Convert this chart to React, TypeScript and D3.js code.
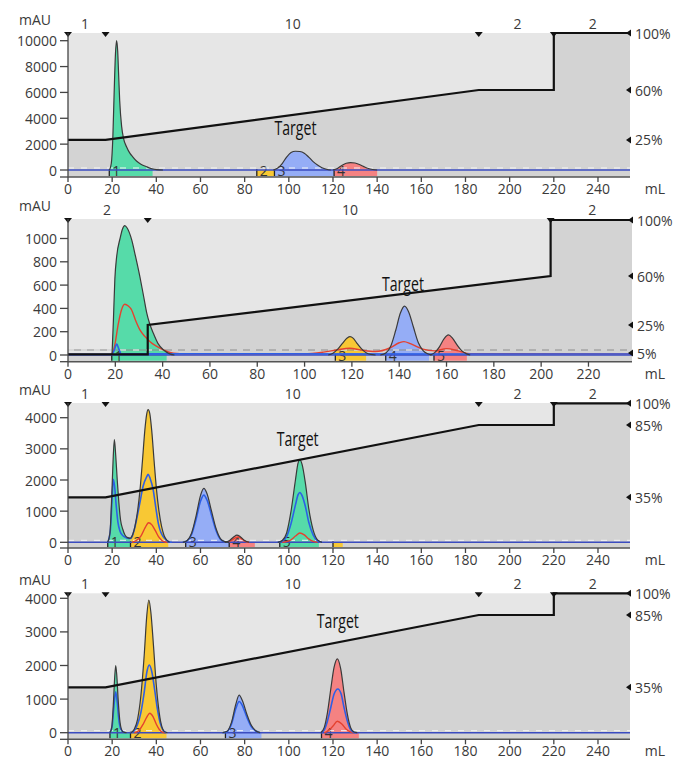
import React from 'react';
import * as d3 from 'd3';

type Pt = [number, number];

// ---------- data ----------
const X_TICKS_A = [0, 20, 40, 60, 80, 100, 120, 140, 160, 180, 200, 220, 240];
const X_TICKS_B = [0, 20, 40, 60, 80, 100, 120, 140, 160, 180, 200, 220];
const Y_TICKS_1 = [0, 2000, 4000, 6000, 8000, 10000];
const Y_TICKS_2 = [0, 200, 400, 600, 800, 1000];
const Y_TICKS_3 = [0, 1000, 2000, 3000, 4000];
const Y_TICKS_4 = [0, 1000, 2000, 3000, 4000];
const PCT_TICKS_1 = [25, 60, 100];
const PCT_TICKS_2 = [5, 25, 60, 100];
const PCT_TICKS_3 = [35, 85, 100];
const PCT_TICKS_4 = [35, 85, 100];

const GRADIENT_1: Pt[] = [[0, 25], [17, 25], [186, 60], [220, 60], [220, 100], [254.5, 100]];
const GRADIENT_2: Pt[] = [[0, 4], [33.7, 4], [33.7, 25], [204, 60], [204, 100], [238.4, 100]];
const GRADIENT_3: Pt[] = [[0, 35], [17, 35], [186, 85], [220, 85], [220, 100], [254.5, 100]];
const GRADIENT_4: Pt[] = [[0, 35], [17, 35], [186, 85], [220, 85], [220, 100], [254.5, 100]];

const STEP_TEXT_1 = ['1', '10', '2', '2'];
const STEP_ML_1 = [7.7, 101.8, 203.6, 237.6];
const STEP_TEXT_2 = ['2', '10', '2'];
const STEP_ML_2 = [16.5, 119.2, 221.6];
const STEP_TEXT_3 = ['1', '10', '2', '2'];
const STEP_ML_3 = [7.7, 101.8, 203.6, 237.6];
const STEP_TEXT_4 = ['1', '10', '2', '2'];
const STEP_ML_4 = [7.7, 101.8, 203.6, 237.6];
const MARKERS_1 = [0, 17, 186, 220];
const MARKERS_2 = [0, 33.7, 204];
const MARKERS_3 = [0, 17, 186, 220];
const MARKERS_4 = [0, 17, 186, 220];

const TARGET_1: Pt = [103, 3300];
const TARGET_2: Pt = [141.6, 618];
const TARGET_3: Pt = [104, 3343];
const TARGET_4: Pt = [122.2, 3354];

// fractions: [label, colour key, from mL, to mL]
type Frac = [string, string, number, number];
const FRACTIONS_1: Frac[] = [['1', 'g', 18.7, 38.3], ['2', 'y', 85.5, 93.5], ['3', 'b', 93.5, 120.5], ['4', 'r', 120.5, 140]];
const FRACTIONS_2: Frac[] = [['1', 'g', 18.5, 41.7], ['3', 'y', 113, 126], ['4', 'b', 134.3, 152.6], ['5', 'r', 154.7, 168.6]];
const FRACTIONS_3: Frac[] = [['1', 'g', 18, 28.3], ['2', 'y', 28.3, 45.4], ['3', 'b', 53.3, 73], ['4', 'r', 73, 84.6], ['5', 'g', 95.9, 113.6], ['', 'y', 120, 124.4]];
const FRACTIONS_4: Frac[] = [['1', 'g', 19, 28.3], ['2', 'y', 28.3, 44.6], ['3', 'b', 71.3, 87.6], ['4', 'r', 114.8, 131.7]];

// main UV trace peaks
const P1_PEAK_G: Pt[] = [[18.8, 0], [19.6, 500], [20.3, 2500], [20.9, 6000], [21.5, 9000], [22, 10000], [22.5, 9200], [22.9, 7500], [23.4, 5400], [24.3, 3350], [25.2, 2400], [26.5, 1800], [28, 1300], [29.4, 1000], [31, 700], [33, 450], [35.6, 250], [38, 100], [40, 30], [43, 0]];
const P1_PEAK_B: Pt[] = [[93, 0], [95, 150], [97, 500], [99, 1000], [101, 1350], [103, 1450], [105, 1430], [107, 1300], [109, 1000], [111, 650], [113, 380], [115, 180], [117, 60], [119, 0]];
const P1_PEAK_R: Pt[] = [[120, 0], [122, 120], [124, 350], [126, 520], [128, 570], [130, 540], [132, 420], [134, 260], [136, 120], [138, 40], [140, 0]];

const P2_PEAK_G: Pt[] = [[18.6, 0], [19.2, 300], [19.8, 650], [20.6, 850], [22, 1000], [23, 1080], [24, 1110], [25, 1090], [26.9, 990], [28.5, 850], [30.4, 670], [32, 500], [33.3, 360], [34.5, 270], [36, 190], [38, 100], [40.3, 45], [43, 10], [45, 0]];
const P2_PEAK_Y: Pt[] = [[110, 0], [112, 15], [114, 50], [116, 100], [118, 145], [119.2, 157], [120.5, 145], [122, 105], [124, 55], [126, 20], [128, 5], [130, 0]];
const P2_PEAK_B: Pt[] = [[132, 0], [134.5, 20], [136.5, 80], [138.5, 210], [140.5, 360], [142.2, 420], [144, 370], [146, 240], [148, 110], [150, 40], [152, 10], [154, 0]];
const P2_PEAK_R: Pt[] = [[153, 0], [155, 20], [157, 70], [159, 140], [160.8, 172], [162.5, 145], [164.5, 85], [166.5, 35], [168.5, 10], [170, 0]];
const P2_TRACE_RED: Pt[] = [[0, 5], [18, 5], [19.5, 60], [21.3, 272], [22.5, 380], [24, 435], [25.5, 420], [26.9, 386], [28.5, 300], [30.4, 215], [32.5, 160], [34.7, 114], [37, 80], [39, 57], [42, 30], [44.6, 15], [50, 8], [100, 10], [108, 25], [114, 45], [119, 58], [124, 42], [130, 30], [136, 60], [140, 105], [142, 115], [145, 95], [150, 50], [155, 35], [160, 55], [165, 35], [170, 12], [238, 8]];
const P2_TRACE_BLUE: Pt[] = [[0, 6], [18.5, 6], [19.5, 40], [20.6, 94], [21.5, 50], [22.5, 10], [238, 8]];

const P3_PEAK_G1: Pt[] = [[18, 0], [19, 300], [19.8, 1460], [20.4, 2600], [21, 3300], [21.6, 2800], [22.3, 2000], [23, 1300], [23.8, 715], [24.8, 420], [25.8, 234], [27, 150], [28.3, 128]];
const P3_PEAK_Y: Pt[] = [[28.3, 128], [29.3, 250], [30.3, 500], [31.5, 1000], [32.6, 1676], [33.7, 2600], [34.8, 3600], [35.6, 4100], [36.3, 4260], [37, 4150], [37.9, 3600], [39, 2600], [40.1, 1676], [41.2, 1000], [42.4, 500], [43.5, 220], [44.7, 74], [46, 0]];
const P3_PEAK_B: Pt[] = [[52, 0], [54, 60], [56, 300], [58, 850], [60, 1500], [61.5, 1730], [63, 1550], [65, 1000], [67, 450], [69, 120], [71, 20], [73, 0]];
const P3_PEAK_R: Pt[] = [[71, 0], [73, 50], [75, 170], [76.5, 230], [78, 180], [80, 60], [82, 0]];
const P3_PEAK_G2: Pt[] = [[95, 0], [97, 60], [99, 300], [101, 1000], [103, 2000], [104.2, 2550], [105, 2650], [106, 2500], [107.5, 1900], [109, 1100], [111, 400], [113, 80], [115, 0]];
const P3_BLUE_A: Pt[] = [[18, 0], [19.2, 400], [19.9, 1300], [20.5, 2020], [21.1, 1800], [21.8, 1200], [22.6, 650], [23.6, 350], [25, 200], [26.5, 140], [27.5, 125], [28.5, 120], [30, 400], [31, 715], [32.5, 1250], [34, 1800], [35.6, 2100], [36.3, 2180], [37.2, 2050], [38.6, 1676], [39.8, 1100], [40.9, 609], [42, 330], [43.1, 180], [44.5, 70], [46, 10], [47, 0]];
const P3_BLUE_B: Pt[] = [[52, 0], [54, 50], [56, 260], [58, 740], [60, 1320], [61.5, 1516], [63, 1350], [65, 870], [67, 390], [69, 100], [71, 15], [73, 0]];
const P3_BLUE_C: Pt[] = [[95, 0], [97, 40], [99, 180], [101, 600], [103, 1200], [104.2, 1530], [105, 1600], [106, 1500], [107.5, 1150], [109, 650], [111, 240], [113, 50], [115, 0]];
const P3_RED_A: Pt[] = [[29, 0], [31, 60], [33, 200], [35, 480], [36.5, 630], [38, 560], [39.5, 380], [41, 180], [42.5, 60], [44, 10], [45, 0]];
const P3_RED_B: Pt[] = [[72, 0], [74, 60], [76, 150], [77, 170], [78.5, 120], [80, 40], [82, 0]];
const P3_RED_C: Pt[] = [[97, 0], [99, 20], [101, 80], [103, 200], [105, 300], [107, 240], [109, 110], [111, 30], [113, 0]];

const P4_PEAK_G: Pt[] = [[19, 0], [19.8, 150], [20.5, 800], [21.1, 1600], [21.6, 2000], [22.1, 1700], [22.7, 1000], [23.4, 400], [24.2, 100], [25, 20], [26.5, 0]];
const P4_PEAK_Y: Pt[] = [[28.5, 0], [30, 100], [31.5, 400], [33, 1100], [34.5, 2300], [35.7, 3500], [36.6, 3950], [37.5, 3600], [38.7, 2600], [40, 1400], [41.3, 600], [42.5, 180], [43.5, 40], [45, 0]];
const P4_PEAK_B: Pt[] = [[70, 0], [72, 40], [74, 300], [76, 850], [77.5, 1120], [79, 950], [81, 550], [83, 220], [85, 60], [87, 0]];
const P4_PEAK_R: Pt[] = [[114.5, 0], [116, 150], [117.5, 600], [119, 1300], [120.5, 1950], [122, 2200], [123.5, 1900], [125, 1200], [126.5, 550], [128, 150], [129.5, 20], [131, 0]];
const P4_BLUE_A: Pt[] = [[19, 0], [20, 200], [20.8, 800], [21.6, 1220], [22.3, 900], [23, 400], [23.8, 120], [25, 20], [26, 0]];
const P4_BLUE_B: Pt[] = [[28.5, 0], [30, 60], [31.5, 250], [33, 600], [34.5, 1200], [35.7, 1800], [36.8, 2015], [38, 1800], [39.2, 1300], [40.5, 700], [41.7, 300], [43, 80], [44.5, 0]];
const P4_BLUE_C: Pt[] = [[70, 0], [72, 30], [74, 250], [76, 720], [77.5, 930], [79, 800], [81, 460], [83, 180], [85, 50], [87, 0]];
const P4_BLUE_D: Pt[] = [[114.5, 0], [116, 80], [117.5, 350], [119, 750], [120.5, 1150], [122.2, 1300], [123.7, 1150], [125, 750], [126.5, 350], [128, 90], [129.5, 10], [131, 0]];
const P4_RED_A: Pt[] = [[30, 0], [32, 60], [34, 250], [35.8, 480], [37, 580], [38.5, 480], [40, 250], [41.5, 80], [43, 10], [44, 0]];
const P4_RED_B: Pt[] = [[116, 0], [118, 60], [120, 200], [122, 340], [124, 260], [126, 100], [128, 20], [129.5, 0]];

// ---------- styles ----------
const COLORS: Record<string, string> = { g: '#56dba9', y: '#f8c834', b: '#95adf6', r: '#f58282' };
const LIGHT_BG = '#e6e6e6';
const DARK_BG = '#d3d3d3';
const TXT = '#3a3a3a';
const FONT = '"Open Sans", "DejaVu Sans", sans-serif';

interface PanelCfg {
  top: number; zero: number; bottom: number; right: number;
  xMax: number; xTicks: number[];
  yTicks: number[]; yTopPx: number;
  pctZeroPx: number; pctTopPx: number; pctTicks: number[];
  gradient: Pt[]; stepText: string[]; stepMl: number[]; markers: number[];
  target: Pt; fractions: Frac[];
  peaks: [string, Pt[]][]; blue: Pt[][]; red: Pt[][];
  dashOffset: number;
}

const PANELS: PanelCfg[] = [
  {
    top: 33, zero: 170, bottom: 177, right: 630, xMax: 254.5, xTicks: X_TICKS_A,
    yTicks: Y_TICKS_1, yTopPx: 40.7, pctZeroPx: 175.5, pctTopPx: 33, pctTicks: PCT_TICKS_1,
    gradient: GRADIENT_1, stepText: STEP_TEXT_1, stepMl: STEP_ML_1, markers: MARKERS_1,
    target: TARGET_1, fractions: FRACTIONS_1,
    peaks: [['g', P1_PEAK_G], ['b', P1_PEAK_B], ['r', P1_PEAK_R]], blue: [], red: [], dashOffset: 2,
  },
  {
    top: 219, zero: 355, bottom: 361.7, right: 632, xMax: 238.4, xTicks: X_TICKS_B,
    yTicks: Y_TICKS_2, yTopPx: 238.5, pctZeroPx: 360, pctTopPx: 220, pctTicks: PCT_TICKS_2,
    gradient: GRADIENT_2, stepText: STEP_TEXT_2, stepMl: STEP_ML_2, markers: MARKERS_2,
    target: TARGET_2, fractions: FRACTIONS_2,
    peaks: [['g', P2_PEAK_G], ['y', P2_PEAK_Y], ['b', P2_PEAK_B], ['r', P2_PEAK_R]],
    blue: [P2_TRACE_BLUE], red: [P2_TRACE_RED], dashOffset: 5,
  },
  {
    top: 403, zero: 542.3, bottom: 548, right: 630, xMax: 254.5, xTicks: X_TICKS_A,
    yTicks: Y_TICKS_3, yTopPx: 417.7, pctZeroPx: 548, pctTopPx: 403.3, pctTicks: PCT_TICKS_3,
    gradient: GRADIENT_3, stepText: STEP_TEXT_3, stepMl: STEP_ML_3, markers: MARKERS_3,
    target: TARGET_3, fractions: FRACTIONS_3,
    peaks: [['g', P3_PEAK_G1], ['y', P3_PEAK_Y], ['b', P3_PEAK_B], ['r', P3_PEAK_R], ['g', P3_PEAK_G2]],
    blue: [P3_BLUE_A, P3_BLUE_B, P3_BLUE_C], red: [P3_RED_A, P3_RED_B, P3_RED_C], dashOffset: 2,
  },
  {
    top: 593.3, zero: 732.7, bottom: 739.3, right: 630, xMax: 254.5, xTicks: X_TICKS_A,
    yTicks: Y_TICKS_4, yTopPx: 598.3, pctZeroPx: 738, pctTopPx: 593.3, pctTicks: PCT_TICKS_4,
    gradient: GRADIENT_4, stepText: STEP_TEXT_4, stepMl: STEP_ML_4, markers: MARKERS_4,
    target: TARGET_4, fractions: FRACTIONS_4,
    peaks: [['g', P4_PEAK_G], ['y', P4_PEAK_Y], ['b', P4_PEAK_B], ['r', P4_PEAK_R]],
    blue: [P4_BLUE_A, P4_BLUE_B, P4_BLUE_C, P4_BLUE_D], red: [P4_RED_A, P4_RED_B], dashOffset: 2,
  },
];

const LEFT = 68;

function Panel({ c }: { c: PanelCfg }) {
  const x = d3.scaleLinear().domain([0, c.xMax]).range([LEFT, c.right]);
  const yMaxTick = c.yTicks[c.yTicks.length - 1];
  const y = d3.scaleLinear().domain([0, yMaxTick]).range([c.zero, c.yTopPx]);
  const p = d3.scaleLinear().domain([0, 100]).range([c.pctZeroPx, c.pctTopPx]);

  const gradLine = d3.line<Pt>().x(d => x(d[0])).y(d => p(d[1]));
  const gradArea = d3.area<Pt>().x(d => x(d[0])).y0(c.bottom).y1(d => p(d[1]));
  const peakArea = d3.area<Pt>().x(d => x(d[0])).y0(c.zero).y1(d => y(d[1])).curve(d3.curveMonotoneX);
  const peakLine = d3.line<Pt>().x(d => x(d[0])).y(d => y(d[1])).curve(d3.curveMonotoneX);

  const w = c.right - LEFT;
  const xLabY = c.bottom + 11.5;
  return (
    <g>
      {/* backgrounds */}
      <rect x={LEFT} y={c.top} width={w} height={c.bottom - c.top} fill={LIGHT_BG} />
      <path d={gradArea(c.gradient) || ''} fill={DARK_BG} />

      {/* peak fills */}
      {c.peaks.map(([k, pts], i) => (
        <path key={'pf' + i} d={peakArea(pts) || ''} fill={COLORS[k]} />
      ))}

      {/* fractions */}
      {c.fractions.map(([lab, k, a, b], i) => (
        <g key={'fr' + i}>
          <rect x={x(a)} y={c.zero} width={x(b) - x(a)} height={c.bottom - c.zero - 1} fill={COLORS[k]} />
          <line x1={x(a)} x2={x(a)} y1={c.zero - 1} y2={c.bottom - 1} stroke="#222" strokeWidth={1.3} />
          {lab && (
            <text x={x(a) + 3} y={c.bottom - 1} fontSize={14} fontFamily={FONT} fill="#333">{lab}</text>
          )}
        </g>
      ))}
      {/* baseline */}
      <line x1={LEFT} x2={c.right} y1={c.zero - c.dashOffset} y2={c.zero - c.dashOffset}
        stroke={c.dashOffset > 3 ? '#8c8c8c' : 'none'} strokeWidth={1} />
      <line x1={LEFT} x2={c.right} y1={c.zero - c.dashOffset} y2={c.zero - c.dashOffset}
        stroke="#f6f6f6" strokeWidth={1} strokeDasharray="6,7" />
      <line x1={LEFT} x2={c.right} y1={c.zero} y2={c.zero} stroke="#3b4cc0" strokeWidth={1.6} />

      {/* secondary traces */}
      {c.red.map((pts, i) => (
        <path key={'rd' + i} d={peakLine(pts) || ''} fill="none" stroke="#e5412f" strokeWidth={1.4} />
      ))}
      {c.blue.map((pts, i) => (
        <path key={'bl' + i} d={peakLine(pts) || ''} fill="none" stroke="#2d5fe6" strokeWidth={1.6} />
      ))}
      {/* peak outlines */}
      {c.peaks.map(([, pts], i) => (
        <path key={'po' + i} d={peakLine(pts) || ''} fill="none" stroke="#3a3a3a" strokeWidth={1.2} />
      ))}

      {/* gradient */}
      <path d={gradLine(c.gradient) || ''} fill="none" stroke="#111" strokeWidth={2.2} />

      {/* top step labels & markers */}
      {c.stepText.map((t, i) => (
        <text key={'st' + i} x={x(c.stepMl[i])} y={c.top - 4} fontSize={14} fontFamily={FONT}
          fill={TXT} textAnchor="middle">{t}</text>
      ))}
      {c.markers.map((m, i) => (
        <path key={'mk' + i} d={`M${x(m) - 4},${c.top - 1}L${x(m) + 4},${c.top - 1}L${x(m)},${c.top + 4}Z`} fill="#111" />
      ))}

      {/* left axis */}
      <line x1={LEFT} x2={LEFT} y1={c.top} y2={c.bottom} stroke="#444" strokeWidth={1.3} />
      {c.yTicks.map((t, i) => (
        <g key={'yt' + i}>
          <line x1={LEFT - 8} x2={LEFT} y1={y(t)} y2={y(t)} stroke="#444" strokeWidth={1.3} />
          <text x={LEFT - 11} y={y(t)} fontSize={14} fontFamily={FONT} fill={TXT}
            textAnchor="end" dominantBaseline="central">{t}</text>
        </g>
      ))}
      <line x1={LEFT - 8} x2={LEFT} y1={c.bottom} y2={c.bottom} stroke="#444" strokeWidth={1.3} />
      <text x={35} y={c.top - 14} fontSize={14} fontFamily={FONT} fill={TXT} textAnchor="middle"
        dominantBaseline="central">mAU</text>

      {/* bottom axis */}
      <line x1={LEFT} x2={c.right} y1={c.bottom} y2={c.bottom} stroke="#555" strokeWidth={1.5} />
      {c.xTicks.map((t, i) => (
        <g key={'xt' + i}>
          <line x1={x(t)} x2={x(t)} y1={c.bottom} y2={c.bottom + 5} stroke="#444" strokeWidth={1.3} />
          <text x={x(t)} y={xLabY} fontSize={14} fontFamily={FONT} fill={TXT}
            textAnchor="middle" dominantBaseline="central">{t}</text>
        </g>
      ))}
      <text x={655} y={xLabY} fontSize={14} fontFamily={FONT} fill={TXT}
        textAnchor="middle" dominantBaseline="central">mL</text>

      {/* right % axis */}
      {c.pctTicks.map((t, i) => (
        <g key={'pt' + i}>
          <path d={`M${c.right + 1},${p(t) - 3.5}L${c.right + 1},${p(t) + 3.5}L${c.right - 4},${p(t)}Z`} fill="#111" />
          <text x={c.right + 5} y={p(t)} fontSize={14} fontFamily={FONT} fill={TXT}
            dominantBaseline="central">{t + '%'}</text>
        </g>
      ))}

      {/* target label */}
      <text x={x(c.target[0])} y={y(c.target[1])} fontSize={20} fill="#111" textAnchor="middle"
        dominantBaseline="central" textLength={42} lengthAdjust="spacingAndGlyphs"
        fontFamily='"Open Sans", "Liberation Sans", sans-serif'>Target</text>
    </g>
  );
}

export default function App() {
  return (
    <svg width={681} height={760} viewBox="0 0 681 760"
      style={{ position: 'absolute', left: 0, top: 0, background: '#fff' }}>
      {PANELS.map((c, i) => <Panel key={i} c={c} />)}
    </svg>
  );
}
